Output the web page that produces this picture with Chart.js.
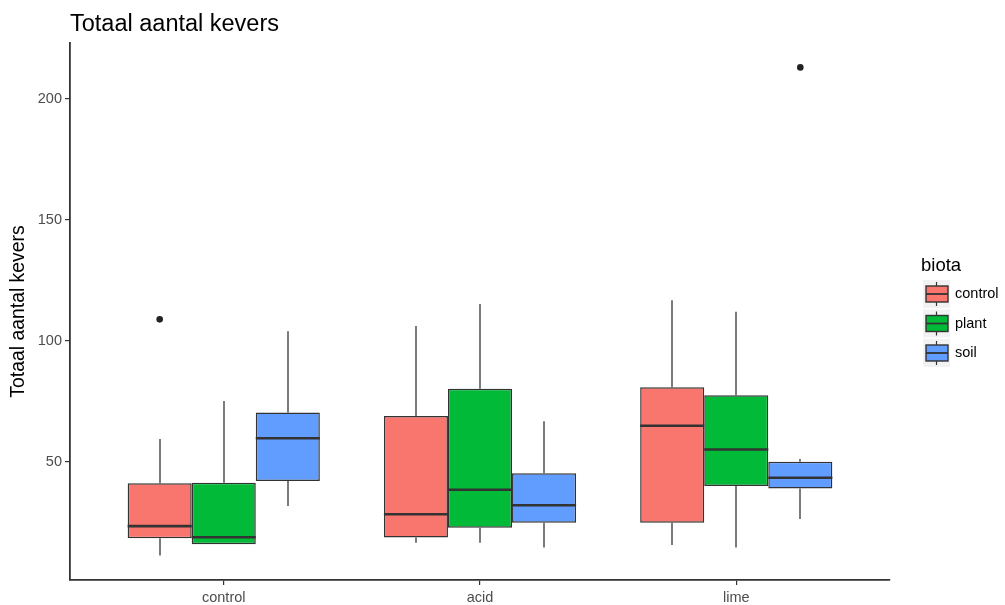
<!DOCTYPE html>
<html>
<head>
<meta charset="utf-8">
<title>Totaal aantal kevers</title>
<script src="https://cdn.jsdelivr.net/npm/chart.js@4"></script>
<style>
  html, body { margin: 0; padding: 0; background: #fff; }
  canvas { display: block; }
</style>
</head>
<body>
<canvas id="chart" width="1005" height="605"></canvas>
<script>
const groups = ['control', 'acid', 'lime'];
const biota = ['control', 'plant', 'soil'];

// rows follow biota, columns follow groups
const lower  = [[11.1, 16.4, 15.5], [15.8, 16.4, 14.4], [31.6, 14.4, 26.2]];
const q1     = [[18.3, 18.6, 24.7], [15.8, 22.6, 39.9], [41.9, 24.7, 38.8]];
const median = [[23.3, 28.2, 64.8], [18.7, 38.3, 55.0], [59.6, 31.9, 43.3]];
const q3     = [[41.0, 68.8, 80.7], [41.2, 80.1, 77.4], [70.3, 45.2, 49.9]];
const upper  = [[59.3, 106.1, 116.7], [75.0, 115.2, 111.9], [103.9, 66.7, 51.0]];
const outliers = [[[108.8], [], []], [[], [], []], [[], [], [213.0]]];

const yTicks = [50, 100, 150, 200];
const yMin = 1.0;
const yMax = 223.1;

const fills = ['#F8766D', '#00BA38', '#619CFF'];
const FONT = "'Liberation Sans', Arial, sans-serif";
const INK = '#333333';

function eachBox(chart, fn) {
  chart.data.datasets.forEach((ds, b) => {
    chart.getDatasetMeta(b).data.forEach((bar, g) => fn(bar, b, g));
  });
}

// whiskers, medians, outliers and the ggplot style legend
const boxParts = {
  id: 'boxParts',
  beforeDatasetsDraw(chart) {
    const { ctx } = chart;
    const y = chart.scales.y;
    ctx.save();
    ctx.strokeStyle = '#444';
    ctx.lineWidth = 1.4;
    eachBox(chart, (bar, b, g) => {
      const x = Math.round(bar.x);
      ctx.beginPath();
      ctx.moveTo(x, y.getPixelForValue(upper[b][g]));
      ctx.lineTo(x, y.getPixelForValue(q3[b][g]));
      ctx.moveTo(x, y.getPixelForValue(q1[b][g]));
      ctx.lineTo(x, y.getPixelForValue(lower[b][g]));
      ctx.stroke();
    });
    ctx.restore();
  },
  afterDatasetsDraw(chart) {
    const { ctx } = chart;
    const y = chart.scales.y;
    ctx.save();
    ctx.strokeStyle = INK;
    ctx.lineWidth = 2.6;
    eachBox(chart, (bar, b, g) => {
      const py = y.getPixelForValue(median[b][g]);
      ctx.beginPath();
      ctx.moveTo(bar.x - bar.width / 2, py);
      ctx.lineTo(bar.x + bar.width / 2, py);
      ctx.stroke();
      ctx.fillStyle = '#222';
      outliers[b][g].forEach((v) => {
        ctx.beginPath();
        ctx.arc(bar.x, y.getPixelForValue(v), 3.3, 0, Math.PI * 2);
        ctx.fill();
      });
    });
    ctx.restore();
  },
  afterDraw(chart) {
    const { ctx } = chart;
    ctx.save();
    ctx.textAlign = 'left';
    ctx.textBaseline = 'middle';
    ctx.fillStyle = '#000';
    ctx.font = `18.5px ${FONT}`;
    ctx.fillText('biota', 921, 266);
    biota.forEach((name, i) => {
      const cy = 294 + i * 29.5;
      ctx.fillStyle = '#F2F2F2';
      ctx.fillRect(923, cy - 14, 27, 28);
      ctx.strokeStyle = INK;
      ctx.lineWidth = 1.2;
      ctx.beginPath();
      ctx.moveTo(936.5, cy - 12);
      ctx.lineTo(936.5, cy + 12);
      ctx.stroke();
      ctx.fillStyle = fills[i];
      ctx.fillRect(926, cy - 8, 22, 16);
      ctx.lineWidth = 1.4;
      ctx.strokeRect(926, cy - 8, 22, 16);
      ctx.lineWidth = 1.8;
      ctx.beginPath();
      ctx.moveTo(926, cy);
      ctx.lineTo(948, cy);
      ctx.stroke();
      ctx.fillStyle = '#000';
      ctx.font = `14.5px ${FONT}`;
      ctx.fillText(name, 955, cy);
    });
    ctx.restore();
  },
};

new Chart(document.getElementById('chart'), {
  type: 'bar',
  data: {
    datasets: biota.map((name, b) => ({
      label: name,
      data: groups.map((g, i) => ({ x: i + 1, y: [q1[b][i], q3[b][i]] })),
      backgroundColor: fills[b],
      borderColor: INK,
      borderWidth: 1.5,
      borderSkipped: false,
      categoryPercentage: 0.75,
      barPercentage: 1,
    })),
  },
  options: {
    responsive: false,
    animation: false,
    devicePixelRatio: 1,
    layout: { padding: { left: 0, right: 115, top: 0, bottom: 0 } },
    plugins: {
      legend: { display: false },
      tooltip: { enabled: false },
      title: {
        display: true,
        text: 'Totaal aantal kevers',
        align: 'start',
        fullSize: false,
        color: '#000',
        font: { family: FONT, size: 23.5, weight: 'normal' },
        padding: { top: 10, bottom: 4.8 },
      },
    },
    scales: {
      x: {
        type: 'linear',
        min: 0.4,
        max: 3.6,
        offset: false,
        afterBuildTicks: (s) => { s.ticks = groups.map((g, i) => ({ value: i + 1 })); },
        afterFit: (s) => { s.height = 25; },
        grid: { offset: false, drawOnChartArea: false, drawTicks: true, tickLength: 5, color: INK, lineWidth: 1.2 },
        border: { display: true, color: INK, width: 1.8 },
        ticks: {
          color: '#4D4D4D',
          font: { family: FONT, size: 14.5 },
          padding: 4,
          maxRotation: 0,
          autoSkip: false,
          callback: (v) => groups[v - 1],
        },
      },
      y: {
        type: 'linear',
        min: yMin,
        max: yMax,
        afterBuildTicks: (s) => { s.ticks = yTicks.map((v) => ({ value: v })); },
        afterFit: (s) => { s.width = 70; },
        grid: { drawOnChartArea: false, drawTicks: true, tickLength: 5, color: INK, lineWidth: 1.2 },
        border: { display: true, color: INK, width: 1.8 },
        ticks: {
          color: '#4D4D4D',
          font: { family: FONT, size: 14.5 },
          padding: 3,
          callback: (v) => v,
        },
        title: {
          display: true,
          text: 'Totaal aantal kevers',
          color: '#000',
          font: { family: FONT, size: 19.4 },
          padding: { top: 7, bottom: 0 },
        },
      },
    },
  },
  plugins: [boxParts],
});
</script>
</body>
</html>
